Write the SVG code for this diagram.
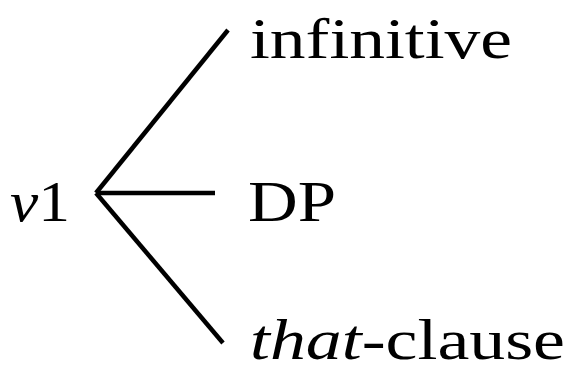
<svg xmlns="http://www.w3.org/2000/svg" width="568" height="371" viewBox="0 0 568 371">
<style>
text{font-family:"Liberation Serif","DejaVu Serif",serif;font-size:58px;fill:#000}
.i{font-style:italic}
.c{stroke:#000;stroke-width:4.5;fill:none;stroke-linecap:butt}
</style>
<rect width="568" height="371" fill="#fff"/>
<g id="connectors">
<line class="c" x1="96" y1="193" x2="228" y2="30"/>
<line class="c" x1="96" y1="193" x2="215" y2="193"/>
<line class="c" x1="96" y1="193" x2="223" y2="343"/>
</g>
<g id="v1"><text x="10" y="221" textLength="60" lengthAdjust="spacingAndGlyphs"><tspan class="i">v</tspan>1</text></g>
<g id="infinitive"><text x="250" y="58" textLength="262" lengthAdjust="spacingAndGlyphs">infinitive</text></g>
<g id="DP"><text x="248" y="221" textLength="88" lengthAdjust="spacingAndGlyphs">DP</text></g>
<g id="that-clause"><text x="250" y="359" font-size="54" textLength="315" lengthAdjust="spacingAndGlyphs"><tspan class="i">that</tspan>-clause</text></g>
</svg>
